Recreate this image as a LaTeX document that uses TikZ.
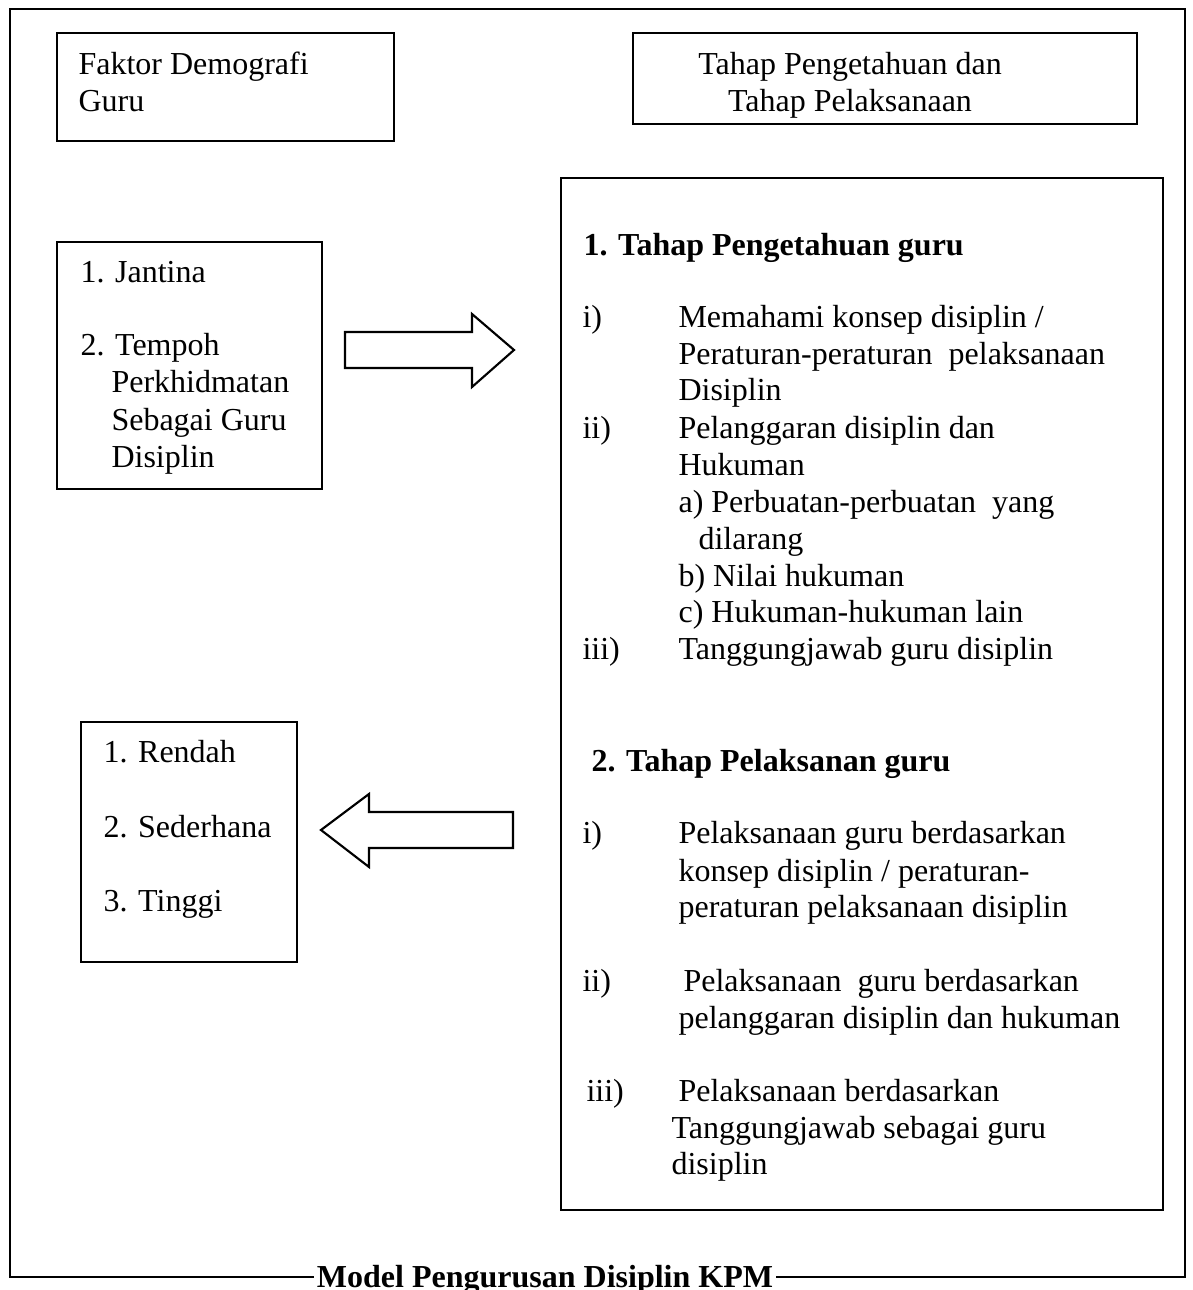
\documentclass[tikz,border=0pt]{standalone}
\usepackage{fontspec}
\setmainfont{Liberation Serif}
\newcommand{\pxu}{0.375pt}
\tikzset{kotak/.style={draw,line width=0.8pt,inner sep=0pt}}
\tikzset{teks/.style={anchor=base west,inner sep=0pt,font=\fontsize{12}{14}\selectfont}}
\tikzset{tebal/.style={teks,font=\fontsize{12}{14}\selectfont\bfseries}}
\tikzset{panah/.style={draw,line width=0.8pt,fill=white,line join=miter}}

\begin{document}
\begin{tikzpicture}[x=0.375pt,y=-0.375pt]
  \useasboundingbox (0,0) rectangle (1192,1290);
  % outer frame with title
  \node[anchor=base,inner sep=1pt,font=\fontsize{12}{14}\selectfont\bfseries] (judul) at (545,1287) {Model Pengurusan Disiplin KPM};
  \draw[line width=0.8pt] (judul.west |- 0,1277) -- (10,1277) -- (10,9) -- (1185,9) -- (1185,1277) -- (judul.east |- 0,1277);
  % boxes
  \node[kotak,minimum width=337*\pxu,minimum height=108*\pxu] (demo) at (225.5,87) {};
  \node[kotak,minimum width=504*\pxu,minimum height=91*\pxu] (tahap) at (885,78.5) {};
  \node[kotak,minimum width=265*\pxu,minimum height=247*\pxu] (faktor) at (189.5,365.5) {};
  \node[kotak,minimum width=216*\pxu,minimum height=240*\pxu] (hasil) at (189,842) {};
  \node[kotak,minimum width=602*\pxu,minimum height=1032*\pxu] (model) at (862,694) {};
  % block arrows
  \draw[panah] (345,332) -- (472,332) -- (472,314) -- (514,350) -- (472,387) -- (472,368) -- (345,368) -- cycle;
  \draw[panah] (513,812) -- (369,812) -- (369,794) -- (321,830) -- (369,867) -- (369,848) -- (513,848) -- cycle;
  % top labels
  \node[teks] (demo1) at (78,75) {Faktor Demografi};
  \node[teks] (demo2) at (78,112) {Guru};
  \node[teks,anchor=base] (tahap1) at (850,75) {Tahap Pengetahuan dan};
  \node[teks,anchor=base] (tahap2) at (850,112) {Tahap Pelaksanaan};
  % demographic factors
  \node[teks] (f1) at (80,283) {1. Jantina};
  \node[teks] (f2) at (80,356) {2. Tempoh};
  \node[teks] (f3) at (111,393) {Perkhidmatan};
  \node[teks] (f4) at (111,430) {Sebagai Guru};
  \node[teks] (f5) at (111,467) {Disiplin};
  % levels
  \node[teks] (h1) at (103,762) {1. Rendah};
  \node[teks] (h2) at (103,837) {2. Sederhana};
  \node[teks] (h3) at (103,911) {3. Tinggi};
  % knowledge
  \node[tebal] (p0) at (583,256) {1. Tahap Pengetahuan guru};
  \node[teks] (pi) at (582,328) {i)};
  \node[teks] (p1) at (678,328) {Memahami konsep disiplin /};
  \node[teks] (p2) at (678,365) {Peraturan-peraturan\ \ pelaksanaan};
  \node[teks] (p3) at (678,401) {Disiplin};
  \node[teks] (pii) at (582,439) {ii)};
  \node[teks] (p4) at (678,439) {Pelanggaran disiplin dan};
  \node[teks] (p5) at (678,476) {Hukuman};
  \node[teks] (p6) at (678,512) {a) Perbuatan-perbuatan\ \ yang};
  \node[teks] (p7) at (698,549) {dilarang};
  \node[teks] (p8) at (678,586) {b) Nilai hukuman};
  \node[teks] (p9) at (678,622) {c) Hukuman-hukuman lain};
  \node[teks] (piii) at (582,659) {iii)};
  \node[teks] (p10) at (678,659) {Tanggungjawab guru disiplin};
  % implementation
  \node[tebal] (l0) at (591,771) {2. Tahap Pelaksanan guru};
  \node[teks] (li) at (582,843) {i)};
  \node[teks] (l1) at (678,843) {Pelaksanaan guru berdasarkan};
  \node[teks] (l2) at (678,881) {konsep disiplin / peraturan-};
  \node[teks] (l3) at (678,917) {peraturan pelaksanaan disiplin};
  \node[teks] (lii) at (582,991) {ii)};
  \node[teks] (l4) at (683,991) {Pelaksanaan\ \ guru berdasarkan};
  \node[teks] (l5) at (678,1028) {pelanggaran disiplin dan hukuman};
  \node[teks] (liii) at (586,1101) {iii)};
  \node[teks] (l6) at (678,1101) {Pelaksanaan berdasarkan};
  \node[teks] (l7) at (671,1138) {Tanggungjawab sebagai guru};
  \node[teks] (l8) at (671,1174) {disiplin};
\end{tikzpicture}
\end{document}
